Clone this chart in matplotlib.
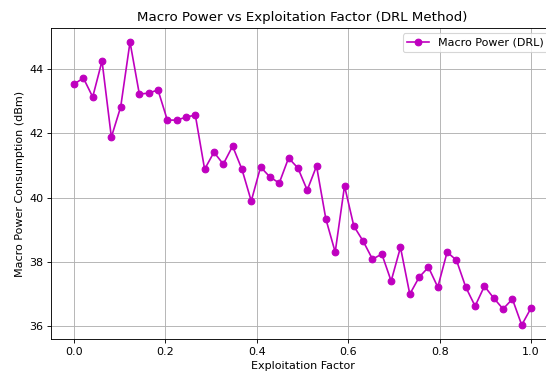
import numpy as np
import matplotlib
matplotlib.use("Agg")
import matplotlib.pyplot as plt

exploitation = np.linspace(0, 1, 50)
macro_power = [43.53, 43.72, 43.13, 44.25, 41.88, 42.82, 44.84, 43.22, 43.25, 43.35,
               42.41, 42.41, 42.50, 42.57, 40.88, 41.41, 41.04, 41.60, 40.88, 39.89,
               40.95, 40.64, 40.45, 41.23, 40.92, 40.23, 40.98, 39.33, 38.30, 40.36,
               39.11, 38.64, 38.08, 38.24, 37.40, 38.45, 36.99, 37.52, 37.83, 37.21,
               38.30, 38.05, 37.21, 36.62, 37.24, 36.87, 36.53, 36.84, 36.03, 36.56]

DPI = 80
fig = plt.figure(figsize=(546/DPI, 378/DPI), dpi=DPI)
ax = fig.add_axes([51.2/546, (378-339.2)/378, 502.7/546, (339.2-27.9)/378])
ax.plot(exploitation, macro_power, marker='o', color='m', label='Macro Power (DRL)')
ax.set_title('Macro Power vs Exploitation Factor (DRL Method)')
ax.set_xlabel('Exploitation Factor')
ax.set_ylabel('Macro Power Consumption (dBm)')
ax.grid(True)
ax.legend(loc='upper right')
fig.savefig('out.png', dpi=DPI)
